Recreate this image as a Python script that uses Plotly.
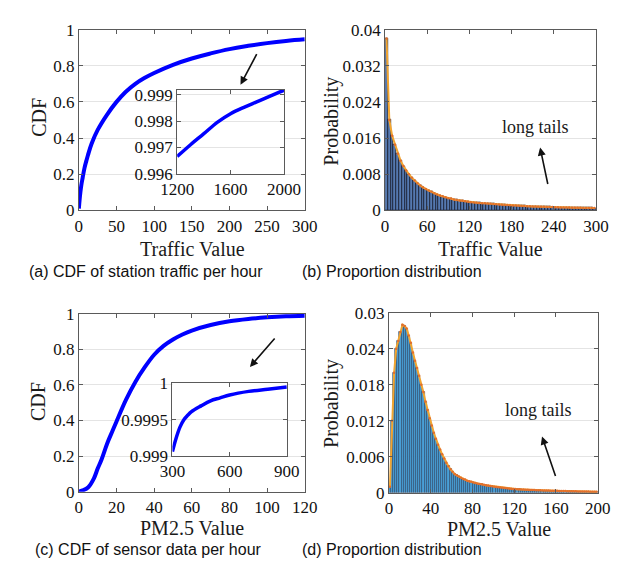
import plotly.graph_objects as go

W, H = 620, 572

# ---------------- data ----------------
# (a) CDF of station traffic per hour
traffic_x = [0, 1, 2, 3.3, 5, 7.5, 10, 12, 17, 25, 37.5, 50, 62, 75, 87, 100,
             125, 150, 175, 200, 225, 250, 275, 300]
traffic_cdf = [0.01, 0.06, 0.10, 0.14, 0.18, 0.235, 0.275, 0.305, 0.37, 0.445,
               0.53, 0.60, 0.655, 0.70, 0.732, 0.76, 0.805, 0.84, 0.868,
               0.892, 0.91, 0.925, 0.937, 0.946]
traffic_inset_x = [1200, 1300, 1400, 1500, 1600, 1700, 1800, 1900, 2000]
traffic_inset_cdf = [0.99665, 0.99710, 0.99752, 0.99795, 0.99828, 0.99852,
                     0.99874, 0.99896, 0.99917]

# (b) proportion distribution of traffic (bin width 4)
traffic_bins = list(range(2, 300, 4))
traffic_prob = [0.0380, 0.0200, 0.0165, 0.0145, 0.0125, 0.0110, 0.0098, 0.0088,
                0.0080, 0.0072, 0.0066, 0.0060, 0.0055, 0.0051, 0.0047, 0.0044,
                0.0041, 0.0038, 0.0035, 0.0033, 0.0031, 0.0029, 0.0027, 0.0026,
                0.0024, 0.0023, 0.0022, 0.0021, 0.0020, 0.0019, 0.0018, 0.00175,
                0.0017, 0.00165, 0.0016, 0.00155, 0.0015, 0.00145, 0.0014, 0.00135,
                0.0013, 0.00125, 0.0012, 0.00117, 0.00114, 0.0011, 0.00106, 0.00102,
                0.00099, 0.00096, 0.00093, 0.0009, 0.00087, 0.00085, 0.00082, 0.0008,
                0.00078, 0.00076, 0.00074, 0.00072, 0.0007, 0.00068, 0.00066, 0.00064,
                0.00063, 0.00061, 0.0006, 0.00058, 0.00057, 0.00056, 0.00054, 0.00053,
                0.00052, 0.00051, 0.0005]

# (c) CDF of sensor data per hour
pm_x = [0, 2, 5, 8, 10, 12, 15, 18, 20, 25, 30, 35, 40, 45, 50, 55, 60, 70,
        80, 90, 100, 110, 120]
pm_cdf = [0.0, 0.007, 0.025, 0.075, 0.13, 0.18, 0.27, 0.345, 0.395, 0.516,
          0.617, 0.70, 0.77, 0.82, 0.856, 0.884, 0.906, 0.937, 0.958, 0.971,
          0.980, 0.986, 0.989]
pm_inset_x = [300, 320, 340, 360, 380, 400, 450, 500, 550, 600, 700, 800, 900]
pm_inset_cdf = [0.99906, 0.99925, 0.99940, 0.99950, 0.99956, 0.99961, 0.99969,
                0.99976, 0.99980, 0.99984, 0.99989, 0.99992, 0.99995]

# (d) proportion distribution of PM2.5 (bin width 2)
pm_bins = list(range(1, 200, 2))
pm_prob = [0.0010, 0.0120, 0.0200, 0.0240, 0.0253, 0.0268, 0.0280, 0.0278,
           0.0274, 0.0262, 0.0250, 0.0234, 0.0220, 0.0208, 0.0195, 0.0180,
           0.0168, 0.0152, 0.0138, 0.0124, 0.0112, 0.0100, 0.0090, 0.0080,
           0.0072, 0.0064, 0.0057, 0.0050, 0.0044, 0.0039, 0.0035, 0.0031,
           0.0029, 0.0027, 0.0025, 0.0023, 0.0022, 0.0020, 0.0019, 0.0018,
           0.0017, 0.0016, 0.0015, 0.00145, 0.0014, 0.0013, 0.00125, 0.0012,
           0.00112, 0.00105, 0.0010, 0.00095, 0.0009, 0.00085, 0.0008, 0.00076,
           0.00072, 0.00068, 0.00065, 0.00062, 0.0006, 0.00058, 0.00056, 0.00054,
           0.00052, 0.0005, 0.00048, 0.00046, 0.00045, 0.00043, 0.00042, 0.0004,
           0.00039, 0.00037, 0.00036, 0.00035, 0.00034, 0.00033, 0.00032, 0.00031,
           0.0003, 0.00029, 0.00028, 0.00027, 0.00026, 0.00025, 0.00024, 0.00023,
           0.00022, 0.00022, 0.00021, 0.0002, 0.0002, 0.00019, 0.00018, 0.00018,
           0.00017, 0.00017, 0.00016, 0.00015]

# tick labels
cdf_ticks = [0, 0.2, 0.4, 0.6, 0.8, 1]
cdf_ticktext = ["0", "0.2", "0.4", "0.6", "0.8", "1"]
traffic_xticks = [0, 50, 100, 150, 200, 250, 300]
traffic_inset_xticks = [1200, 1600, 2000]
traffic_inset_yticks = [0.996, 0.997, 0.998, 0.999]
prob_b_ticks = [0, 0.008, 0.016, 0.024, 0.032, 0.04]
prob_b_ticktext = ["0", "0.008", "0.016", "0.024", "0.032", "0.04"]
traffic_b_xticks = [0, 60, 120, 180, 240, 300]
pm_xticks = [0, 20, 40, 60, 80, 100, 120]
pm_inset_xticks = [300, 600, 900]
pm_inset_yticks = [0.999, 0.9995, 1.0]
pm_inset_ytext = ["0.999", "0.9995", "1"]
prob_d_ticks = [0, 0.006, 0.012, 0.018, 0.024, 0.03]
prob_d_ticktext = ["0", "0.006", "0.012", "0.018", "0.024", "0.03"]
pm_d_xticks = [0, 40, 80, 120, 160, 200]

captions = ["(a) CDF of station traffic per hour", "(b) Proportion distribution",
            "(c) CDF of sensor data per hour", "(d) Proportion distribution"]

# ---------------- helpers ----------------
def px(x):
    return x / W

def py(y):
    return 1 - y / H

SERIF = "Liberation Serif"
LINEC = "#5a5a5a"

def axis(dom, rng, tickvals, ticktext=None, grid=False, size=17):
    d = dict(domain=dom, range=rng, tickvals=tickvals, showline=True,
             linecolor=LINEC, linewidth=1, mirror="ticks", ticks="inside",
             ticklen=4, tickcolor=LINEC, zeroline=False,
             showgrid=grid, gridcolor="#e4e4e4", gridwidth=1,
             tickfont=dict(family=SERIF, size=size, color="#111"))
    if ticktext is not None:
        d["ticktext"] = ticktext
    return d

fig = go.Figure()

BLUE = "#0000ff"
ORANGE = "#f2a530"
ORANGE_M = "#e36f2c"

# (a)
fig.add_trace(go.Scatter(x=traffic_x, y=traffic_cdf, mode="lines",
                         line=dict(color=BLUE, width=4, shape="spline", smoothing=1.2),
                         xaxis="x", yaxis="y", showlegend=False))
fig.add_trace(go.Scatter(x=traffic_inset_x, y=traffic_inset_cdf, mode="lines",
                         line=dict(color=BLUE, width=3.5, shape="spline"),
                         xaxis="x2", yaxis="y2", showlegend=False))
# (b)
fig.add_trace(go.Bar(x=traffic_bins, y=traffic_prob, width=4,
                     marker=dict(color="#5579b0", line=dict(color="#161d30", width=0.8)),
                     xaxis="x3", yaxis="y3", showlegend=False))
fig.add_trace(go.Scatter(x=traffic_bins, y=traffic_prob, mode="lines+markers",
                         line=dict(color=ORANGE, width=2),
                         marker=dict(color=ORANGE_M, size=2.5),
                         xaxis="x3", yaxis="y3", showlegend=False))
# (c)
fig.add_trace(go.Scatter(x=pm_x, y=pm_cdf, mode="lines",
                         line=dict(color=BLUE, width=4, shape="spline"),
                         xaxis="x4", yaxis="y4", showlegend=False))
fig.add_trace(go.Scatter(x=pm_inset_x, y=pm_inset_cdf, mode="lines",
                         line=dict(color=BLUE, width=3.5, shape="spline"),
                         xaxis="x5", yaxis="y5", showlegend=False))
# (d)
fig.add_trace(go.Bar(x=pm_bins, y=pm_prob, width=2,
                     marker=dict(color="#4a9fd6", line=dict(color="#1d3550", width=0.5)),
                     xaxis="x6", yaxis="y6", showlegend=False))
fig.add_trace(go.Scatter(x=pm_bins, y=pm_prob, mode="lines+markers",
                         line=dict(color=ORANGE, width=2),
                         marker=dict(color=ORANGE_M, size=2.5),
                         xaxis="x6", yaxis="y6", showlegend=False))

a_x = [px(57), px(296)]; a_y = [py(200), py(13)]
ai_x = [px(161), px(274)]; ai_y = [py(162), py(75)]
b_x = [px(381), px(604)]; b_y = [py(200), py(13)]
c_x = [px(57), px(296)]; c_y = [py(491), py(307)]
ci_x = [px(156), px(277)]; ci_y = [py(454), py(379)]
d_x = [px(385), px(606)]; d_y = [py(492), py(306)]

layout = dict(
    width=W, height=H, autosize=False,
    margin=dict(l=0, r=0, t=0, b=0),
    paper_bgcolor="white", plot_bgcolor="white",
    bargap=0, barmode="overlay",
    xaxis=dict(axis(a_x, [0, 300], traffic_xticks), anchor="y"),
    yaxis=dict(axis(a_y, [0, 1], cdf_ticks, cdf_ticktext, grid=True), anchor="x"),
    xaxis2=dict(axis(ai_x, [1200, 2000], traffic_inset_xticks), anchor="y2"),
    yaxis2=dict(axis(ai_y, [0.996, 0.9992], traffic_inset_yticks, grid=True), anchor="x2"),
    xaxis3=dict(axis(b_x, [0, 300], traffic_b_xticks), anchor="y3"),
    yaxis3=dict(axis(b_y, [0, 0.04], prob_b_ticks, prob_b_ticktext, grid=True), anchor="x3"),
    xaxis4=dict(axis(c_x, [0, 120], pm_xticks), anchor="y4"),
    yaxis4=dict(axis(c_y, [0, 1], cdf_ticks, cdf_ticktext, grid=True), anchor="x4"),
    xaxis5=dict(axis(ci_x, [300, 900], pm_inset_xticks), anchor="y5"),
    yaxis5=dict(axis(ci_y, [0.999, 1.0], pm_inset_yticks, pm_inset_ytext, grid=True), anchor="x5"),
    xaxis6=dict(axis(d_x, [0, 200], pm_d_xticks), anchor="y6"),
    yaxis6=dict(axis(d_y, [0, 0.03], prob_d_ticks, prob_d_ticktext, grid=True), anchor="x6"),
)
fig.update_layout(**layout)

ann = []
def text(x, y, s, size=20, family=SERIF, angle=0, color="#1a1a1a"):
    ann.append(dict(x=px(x), y=py(y), xref="paper", yref="paper", text=s,
                    showarrow=False, textangle=angle, xanchor="center", yanchor="middle",
                    font=dict(family=family, size=size, color=color)))

def arrow(hx, hy, tx, ty):
    ann.append(dict(x=px(hx), y=py(hy), xref="paper", yref="paper", text="",
                    showarrow=True, ax=tx - hx, ay=ty - hy, arrowhead=2,
                    arrowsize=1, arrowwidth=1.6, arrowcolor="#111"))

# axis titles
text(177, 240, "Traffic Value")
text(14, 104, "CDF", angle=-90)
text(493, 240, "Traffic Value")
text(324, 108, "Probability", angle=-90)
text(177, 529, "PM2.5 Value")
text(14, 398, "CDF", angle=-90)
text(502, 530, "PM2.5 Value")
text(324, 400, "Probability", angle=-90)

# long tails
text(540, 114, "long tails", size=18)
text(543, 407, "long tails", size=18)

# arrows
arrow(228, 70, 245, 38)
arrow(545, 135, 553, 173)
arrow(238, 362, 264, 332)
arrow(547, 434, 561, 475)

# captions
CAP = "Liberation Sans"
text(128, 263, captions[0], size=16, family=CAP, color="#111")
text(388, 263, captions[1], size=16, family=CAP, color="#111")
text(131, 551, captions[2], size=16, family=CAP, color="#111")
text(388, 551, captions[3], size=16, family=CAP, color="#111")

fig.update_layout(annotations=ann)
fig.write_html("out.html")
